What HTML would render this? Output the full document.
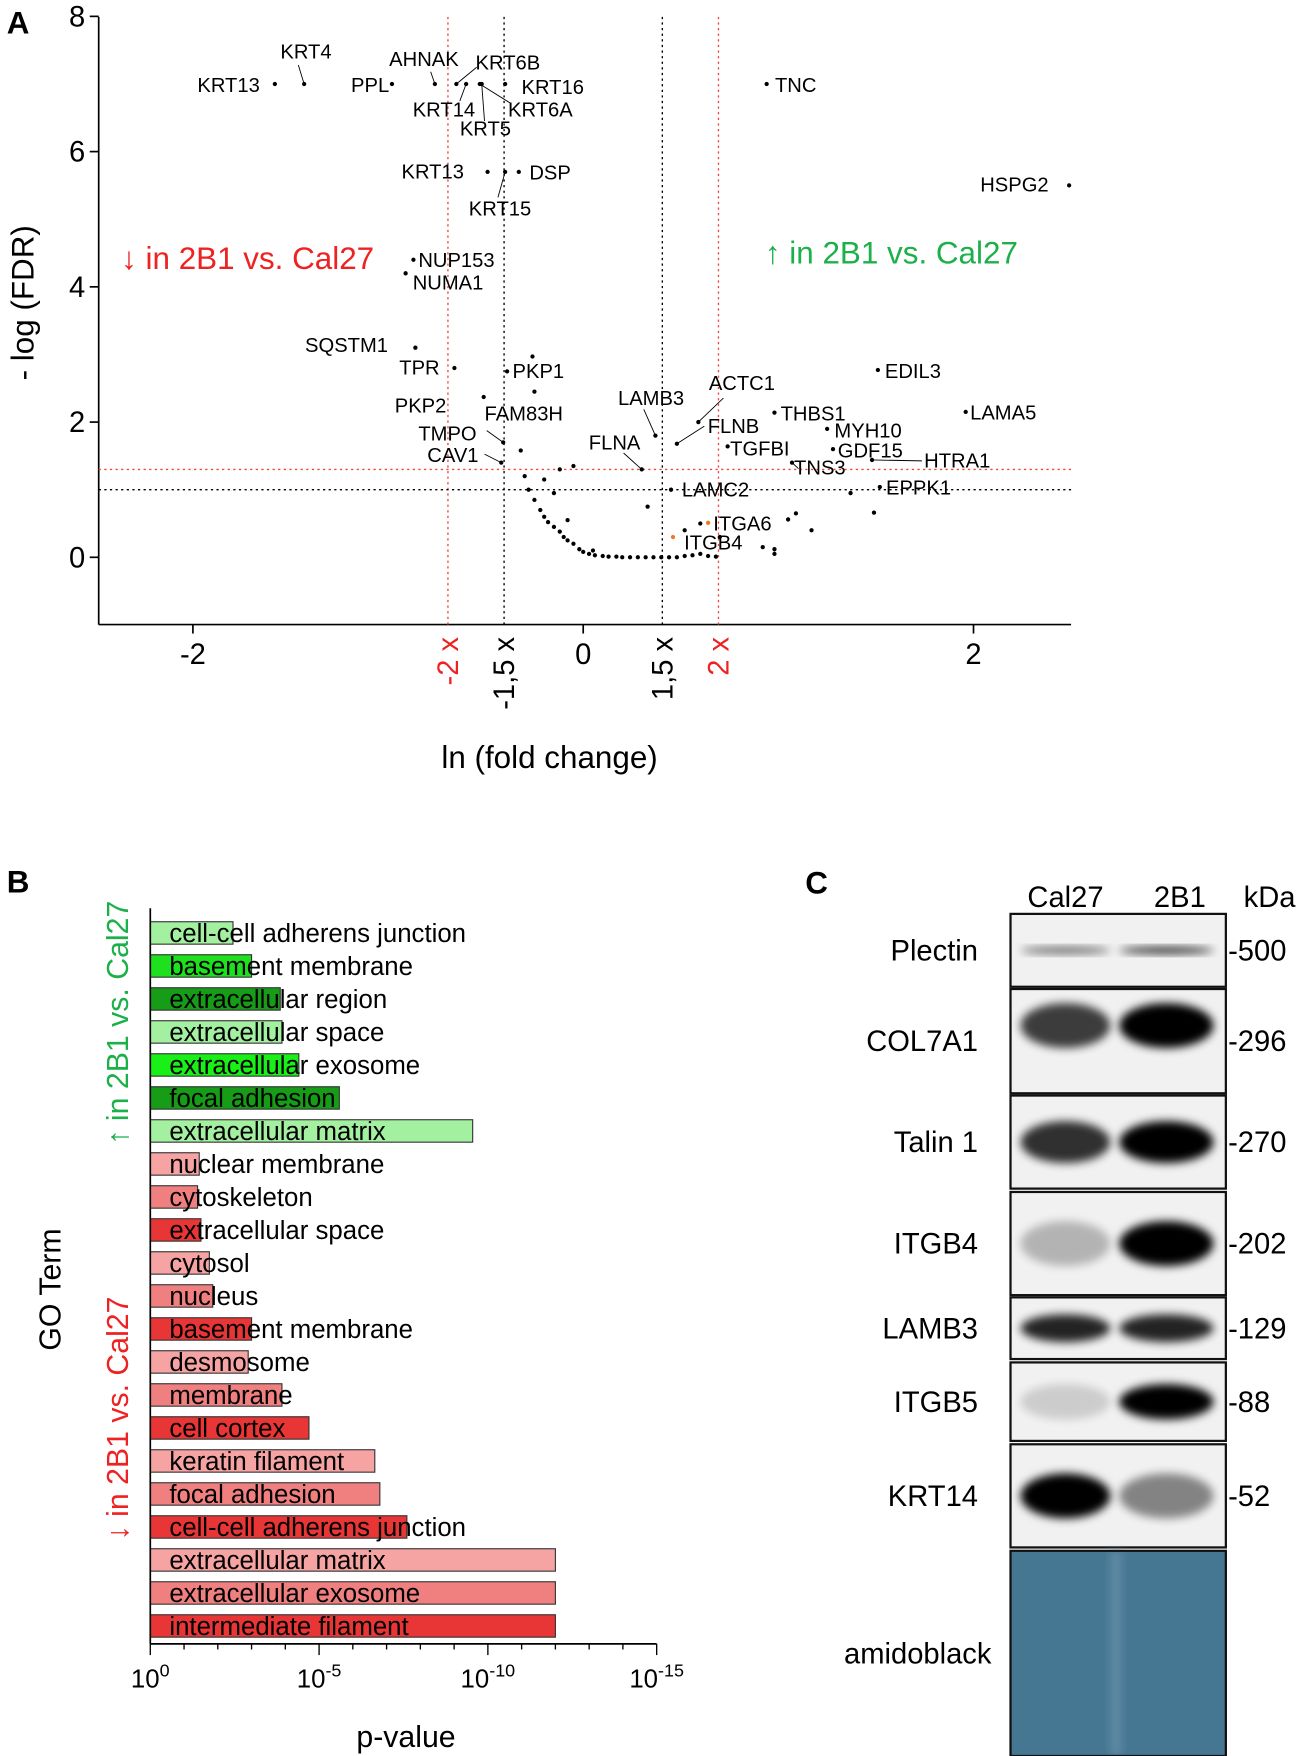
<!DOCTYPE html>
<html><head><meta charset="utf-8"><style>
html,body{margin:0;padding:0;background:#fff;}
svg{display:block;font-family:"Liberation Sans",Arial,sans-serif;}
</style></head><body>
<svg id="fig" width="1301" height="1756" viewBox="0 0 1160 1566" preserveAspectRatio="none">
<defs>
<filter id="blur3" x="-50%" y="-50%" width="200%" height="200%"><feGaussianBlur stdDeviation="4"/></filter>
</defs>
<text x="6" y="30" font-size="28" font-weight="bold">A</text>
<text x="6" y="796" font-size="28" font-weight="bold">B</text>
<text x="718" y="797" font-size="28" font-weight="bold">C</text>
<g id="volcano"></g>
<g id="bars"></g>
<g id="blot"></g>
</svg>
<script>
// ---------- Volcano data ----------
const ptX = [-1.58,-1.43,-0.98,-0.76,-0.65,-0.6,-0.53,-0.52,-0.4,0.94,2.49,-0.49,-0.4,-0.33,-0.87,-0.91,-0.86,-0.66,-0.39,-0.26,-0.51,-0.25,-0.41,-0.32,-0.42,0.37,0.3,0.59,0.48,0.74,0.98,1.25,1.28,1.07,1.48,1.51,1.96,1.52,0.45,1.49,1.37,1.17,1.09,1.05,0.92,0.98,0.98,
 -0.3,-0.28,-0.25,-0.22,-0.2,-0.18,-0.15,-0.12,-0.1,-0.08,-0.05,-0.02,0.0,0.03,0.06,0.1,0.13,0.17,0.2,0.24,0.28,0.32,0.36,0.4,0.44,0.48,0.52,0.56,0.6,0.64,0.68,-0.12,-0.05,-0.2,-0.15,-0.08,0.05,0.33,0.52,0.6,0.7];
const ptY = [7.0,7.0,7.0,7.0,7.0,7.0,7.0,7.0,7.0,7.0,5.5,5.7,5.7,5.7,4.4,4.2,3.1,2.8,2.75,2.97,2.37,2.45,1.7,1.58,1.4,1.8,1.3,2.0,1.68,1.64,2.14,1.9,1.6,1.4,1.44,2.77,2.15,1.04,1.0,0.66,0.95,0.4,0.65,0.56,0.15,0.12,0.05,
 1.2,1.0,0.85,0.7,0.6,0.52,0.45,0.38,0.3,0.25,0.2,0.12,0.08,0.05,0.03,0.02,0.01,0.01,0.0,0.0,0.0,0.0,0.0,0.0,0.0,0.0,0.02,0.03,0.05,0.02,0.01,1.3,1.35,1.15,0.95,0.55,0.1,0.75,0.4,0.5,0.3];
const hlX = [0.64,0.46], hlY = [0.51,0.3];
const lbl = [["KRT13",-1.58,7.0,176,82],["KRT4",-1.43,7.0,250,52],["PPL",-0.98,7.0,313,82],["AHNAK",-0.76,7.0,347,59],["KRT6B",-0.6,7.0,424,62],["KRT16",-0.4,7.0,465,84],["KRT14",-0.6,7.0,368,104],["KRT6A",-0.53,7.0,453,104],["KRT5",-0.52,7.0,410,121],["TNC",0.94,7.0,691,82],["HSPG2",2.49,5.5,874,171],["KRT13",-0.49,5.7,358,159],["DSP",-0.33,5.7,472,160],["KRT15",-0.4,5.7,418,192],["NUP153",-0.87,4.4,373,238],["NUMA1",-0.91,4.2,368,258],["SQSTM1",-0.86,3.1,272,314],["TPR",-0.66,2.8,356,334],["PKP1",-0.39,2.75,457,337],["PKP2",-0.51,2.37,352,368],["FAM83H",-0.41,1.7,432,375],["TMPO",-0.41,1.7,373,393],["CAV1",-0.42,1.4,381,412],["LAMB3",0.37,1.8,551,361],["FLNA",0.3,1.3,525,401],["ACTC1",0.59,2.0,632,348],["FLNB",0.48,1.68,631,386],["TGFBI",0.74,1.64,651,406],["THBS1",0.98,2.14,696,375],["MYH10",1.25,1.9,744,390],["GDF15",1.28,1.6,747,408],["TNS3",1.07,1.4,708,423],["HTRA1",1.48,1.44,824,417],["EDIL3",1.51,2.77,789,337],["LAMA5",1.96,2.15,865,374],["EPPK1",1.52,1.04,790,441],["LAMC2",0.45,1.0,608,443],["ITGA6",0.64,0.51,636,473],["ITGB4",0.46,0.3,610,490]];
// leader lines: [labelX, labelY] end points in figure px -> point data index given by label
const leaders=[["KRT4",-1.43,7.0,266,58],["AHNAK",-0.76,7.0,384,64],["KRT6B",-0.65,7.0,425,60],["KRT14",-0.6,7.0,410,90],["KRT6A",-0.53,7.0,455,92],["KRT5",-0.52,7.0,432,108],["KRT15",-0.4,5.7,444,176],["TMPO",-0.41,1.7,434,384],["CAV1",-0.42,1.4,432,405],["LAMB3",0.37,1.8,574,365],["FLNA",0.3,1.3,556,404],["ACTC1",0.59,2.0,645,355],["FLNB",0.48,1.68,628,380],["HTRA1",1.48,1.44,822,411],["TNS3",1.07,1.4,712,418]];
const xTicks=[-2,0,2], yTicks=[0,2,4,6,8];
const NS="http://www.w3.org/2000/svg";
function mk(tag,attrs,parent,txt){const e=document.createElementNS(NS,tag);for(const k in attrs)e.setAttribute(k,attrs[k]);if(txt!==undefined)e.textContent=txt;parent.appendChild(e);return e;}
const V=document.getElementById('volcano');
const vx=v=>520+v*174, vy=v=>497-v*60.3;
let ax=mk('line',{x1:88,y1:15,x2:88,y2:557,stroke:'#000','stroke-width':1.5},V);

ax=mk('line',{x1:88,y1:557,x2:955,y2:557,stroke:'#000','stroke-width':1.5},V);

yTicks.forEach(t=>{mk('line',{x1:80,x2:88,y1:vy(t),y2:vy(t),stroke:'#000','stroke-width':1.5},V);
 const e=mk('text',{x:76,y:vy(t)+9,'font-size':26,'text-anchor':'end'},V,t);
 });
xTicks.forEach(t=>{mk('line',{x1:vx(t),x2:vx(t),y1:557,y2:565,stroke:'#000','stroke-width':1.5},V);
 const e=mk('text',{x:vx(t),y:592,'font-size':26,'text-anchor':'middle'},V,t);
 });
[[Math.log(2),'#e44'],[-Math.log(2),'#e44'],[Math.log(1.5),'#000'],[-Math.log(1.5),'#000']].forEach(([v,c])=>{
 const l=mk('line',{x1:vx(v),x2:vx(v),y1:15,y2:557,stroke:c,'stroke-width':1.2,'stroke-dasharray':'2,3'},V);
 });
[[1.3,'#e44'],[1.0,'#000']].forEach(([v,c])=>{
 const l=mk('line',{x1:88,x2:955,y1:vy(v),y2:vy(v),stroke:c,'stroke-width':1.2,'stroke-dasharray':'2,3'},V);
 });
[['-2 x',-Math.log(2),'#e22'],['-1,5 x',-Math.log(1.5),'#000'],['1,5 x',Math.log(1.5),'#000'],['2 x',Math.log(2),'#e22']].forEach(([s,v,c])=>{
 const e=mk('text',{x:0,y:0,'font-size':26,fill:c,'text-anchor':'end',transform:`translate(${vx(v)+9},568) rotate(-90)`},V,s);
 });
let t=mk('text',{x:490,y:685,'font-size':28,'text-anchor':'middle'},V,'ln (fold change)');

t=mk('text',{x:0,y:0,'font-size':28,'text-anchor':'middle',transform:'translate(30,270) rotate(-90)'},V,'- log (FDR)');

t=mk('text',{x:108,y:240,'font-size':28,fill:'#e22'},V,'↓ in 2B1 vs. Cal27');

t=mk('text',{x:682,y:235,'font-size':28,fill:'#1bb04a'},V,'↑ in 2B1 vs. Cal27');

leaders.forEach(([s,x,y,lx,ly])=>{const l=mk('line',{x1:vx(x),y1:vy(y),x2:lx,y2:ly,stroke:'#000','stroke-width':0.8},V);
 });
ptX.forEach((x,i)=>{const c=mk('circle',{cx:vx(x),cy:vy(ptY[i]),r:1.9,fill:'#000'},V);
 });
hlX.forEach((x,i)=>{const c=mk('circle',{cx:vx(x),cy:vy(hlY[i]),r:1.9,fill:'#f07820'},V);
 });
lbl.forEach(([s,x,y,lx,ly])=>{const e=mk('text',{x:lx,y:ly,'font-size':18},V,s);
 });

// ---------- GO bar chart ----------
const goTerms=["cell-cell adherens junction","basement membrane","extracellular region","extracellular space","extracellular exosome","focal adhesion","extracellular matrix","nuclear membrane","cytoskeleton","extracellular space","cytosol","nucleus","basement membrane","desmosome","membrane","cell cortex","keratin filament","focal adhesion","cell-cell adherens junction","extracellular matrix","extracellular exosome","intermediate filament"];
const goLogP=[2.45,3.0,3.85,3.9,4.4,5.6,9.55,1.45,1.4,1.5,1.75,1.85,3.0,2.9,3.9,4.7,6.65,6.8,7.6,12.0,12.0,12.0];
const goColors=["#a3f0a0","#1ee01e","#169c16","#a3f0a0","#18f018","#169c16","#a3f0a0","#f6a3a3","#f08080","#e83535","#f6a3a3","#f08080","#e83535","#f6a3a3","#f08080","#e83535","#f6a3a3","#f08080","#e83535","#f6a3a3","#f08080","#e83535"];
const pTicks=[0,5,10,15];
const B=document.getElementById('bars');
const bx=v=>134+v*30.1, rowY=i=>832+i*29.43;
goLogP.forEach((v,i)=>{const r=mk('rect',{x:134,y:rowY(i)-10,width:bx(v)-134,height:20,fill:goColors[i],stroke:'#333','stroke-width':1},B);
 
 const e=mk('text',{x:151,y:rowY(i)+8,'font-size':23},B,goTerms[i]);
 });
ax=mk('line',{x1:134,y1:810,x2:134,y2:1466,stroke:'#000','stroke-width':1.5},B);

ax=mk('line',{x1:134,y1:1466,x2:bx(15),y2:1466,stroke:'#000','stroke-width':1.5},B);

for(let k=0;k<=15;k++)mk('line',{x1:bx(k),x2:bx(k),y1:1466,y2:k%5?1471:1476,stroke:'#000','stroke-width':1.2},B);
pTicks.forEach(p=>{const e=mk('text',{x:bx(p),y:1505,'font-size':23,'text-anchor':'middle'},B);
 mk('tspan',{},e,'10');mk('tspan',{dy:-10,'font-size':16},e,p?'-'+p:'0');
 });
t=mk('text',{x:362,y:1558,'font-size':27,'text-anchor':'middle'},B,'p-value');

t=mk('text',{x:0,y:0,'font-size':27,'text-anchor':'middle',transform:'translate(54,1150) rotate(-90)'},B,'GO Term');

t=mk('text',{x:0,y:0,'font-size':27,'text-anchor':'middle',fill:'#1bb04a',transform:'translate(114,912) rotate(-90)'},B,'↑ in 2B1 vs. Cal27');

t=mk('text',{x:0,y:0,'font-size':27,'text-anchor':'middle',fill:'#e22',transform:'translate(114,1265) rotate(-90)'},B,'↓ in 2B1 vs. Cal27');


// ---------- Western blot ----------
const blotNames=["Plectin","COL7A1","Talin 1","ITGB4","LAMB3","ITGB5","KRT14","amidoblack"];
const blotKda=["500","296","270","202","129","88","52",""];
const blotTop=[815,882,977,1063,1157,1215,1288,1383], blotBot=[880,975,1060,1155,1212,1285,1380,1566];
const cal27Int=[0.6,0.75,0.8,0.25,0.85,0.15,1.0], b2Int=[0.85,1.0,1.0,1.0,0.85,1.0,0.45];
const C=document.getElementById('blot');
let h=mk('text',{x:950,y:809,'font-size':26,'text-anchor':'middle'},C,'Cal27');
h=mk('text',{x:1052,y:809,'font-size':26,'text-anchor':'middle'},C,'2B1');
h=mk('text',{x:1132,y:809,'font-size':26,'text-anchor':'middle'},C,'kDa');
blotNames.forEach((n,i)=>{const y0=blotTop[i],y1=blotBot[i],cy=(y0+y1)/2;
 const g=mk('g',{},C);
 const amido=i===7;
 mk('rect',{x:901,y:y0,width:192,height:y1-y0,fill:amido?'#3d6d8a':'#f1f1f1'},g);
 if(amido){mk('rect',{x:901,y:y0,width:192,height:y1-y0,fill:'#5a8aa5',opacity:0.3},g);
  mk('rect',{x:990,y:y0,width:10,height:y1-y0,fill:'#7aa0b8',opacity:0.5,filter:'url(#blur3)'},g);}
 else{
  const hh=(y1-y0), th=i===0?6:Math.min(hh*0.45,40);
  const cyb=i===1?y0+hh*0.35:cy;
  mk('ellipse',{cx:950,cy:cyb,rx:40,ry:th/2,fill:'#000',opacity:cal27Int[i],filter:'url(#blur3)'},g);
  mk('ellipse',{cx:1040,cy:cyb,rx:42,ry:th/2,fill:'#000',opacity:b2Int[i],filter:'url(#blur3)'},g);
 }
 mk('rect',{x:901,y:y0,width:192,height:y1-y0,fill:'none',stroke:'#111','stroke-width':2},g);
 const lt=mk('text',{x:amido?884:872,y:cy+9,'font-size':26,'text-anchor':'end'},C,n);
 
 if(blotKda[i]){const k=mk('text',{x:1095,y:cy+9,'font-size':26},C,'-'+blotKda[i]);
  }
});
</script>
</body></html>
